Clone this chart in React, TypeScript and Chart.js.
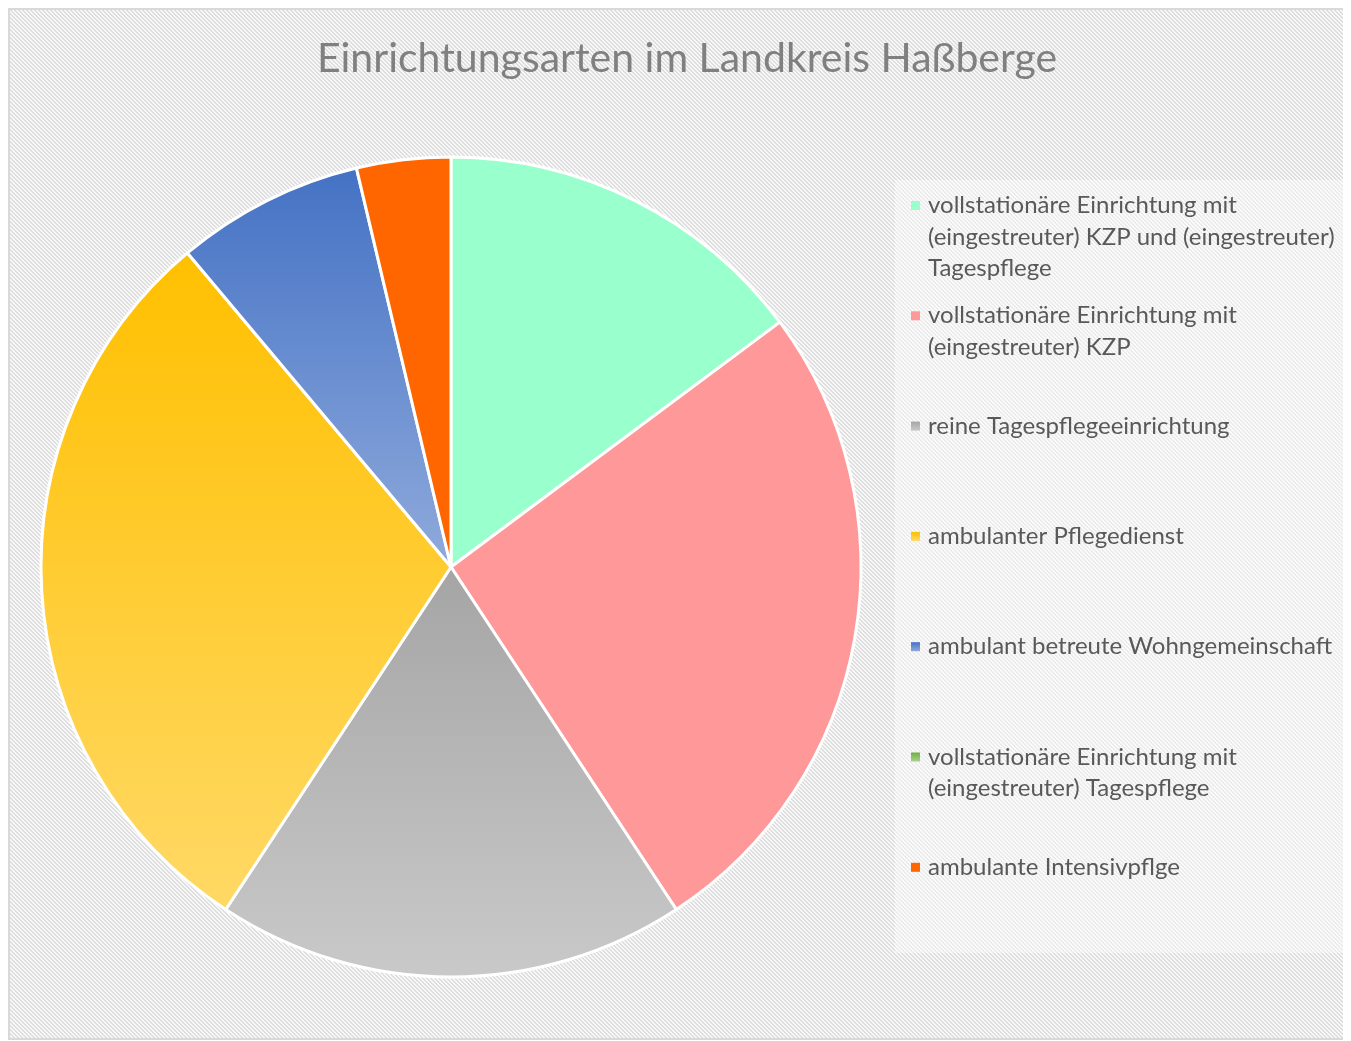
import React, { useEffect, useRef } from "react";
import { Chart, registerables } from "chart.js";

Chart.register(...registerables);

const TITLE = "Einrichtungsarten im Landkreis Haßberge";

const categories = [
  "vollstationäre Einrichtung mit (eingestreuter) KZP und (eingestreuter) Tagespflege",
  "vollstationäre Einrichtung mit (eingestreuter) KZP",
  "reine Tagespflegeeinrichtung",
  "ambulanter Pflegedienst",
  "ambulant betreute Wohngemeinschaft",
  "vollstationäre Einrichtung mit (eingestreuter) Tagespflege",
  "ambulante Intensivpflge",
];

const counts = [4, 7, 5, 8, 2, 0, 1];

const topColors = ["#99FFCC", "#FF9999", "#A5A5A5", "#FFC000", "#4472C4", "#70AD47", "#FF6600"];
const bottomColors = ["#99FFCC", "#FF9999", "#C9C9C9", "#FFD966", "#8FAADC", "#A9D18E", "#FF6600"];

const FONT = "Lato, 'Open Sans', sans-serif";
const PIE_RADIUS = 410;

function sliceGradient(ctx: any) {
  const i: number = ctx.dataIndex ?? 0;
  const chart = ctx.chart;
  const area = chart.chartArea;
  if (!area || topColors[i] === bottomColors[i]) return topColors[i];
  const cy = (area.top + area.bottom) / 2;
  const total = counts.reduce((a, b) => a + b, 0);
  const before = counts.slice(0, i).reduce((a, b) => a + b, 0);
  const start = -Math.PI / 2 + (before / total) * Math.PI * 2;
  const end = start + (counts[i] / total) * Math.PI * 2;
  const ys = [cy, cy + PIE_RADIUS * Math.sin(start), cy + PIE_RADIUS * Math.sin(end)];
  for (const a of [-Math.PI / 2, Math.PI / 2, (3 * Math.PI) / 2]) {
    if (a > start && a < end) ys.push(cy + PIE_RADIUS * Math.sin(a));
  }
  const minY = Math.min(...ys);
  const maxY = Math.max(...ys);
  if (maxY - minY < 1) return topColors[i];
  const g = chart.ctx.createLinearGradient(0, minY, 0, maxY);
  g.addColorStop(0, topColors[i]);
  g.addColorStop(1, bottomColors[i]);
  return g;
}

function makeHatch(ctx: CanvasRenderingContext2D, dark: string, light: string) {
  const c = document.createElement("canvas");
  c.width = 4;
  c.height = 4;
  const x = c.getContext("2d")!;
  for (let yy = 0; yy < 4; yy++) {
    for (let xx = 0; xx < 4; xx++) {
      const m = (((xx - yy) % 4) + 4) % 4;
      x.fillStyle = m === 0 || m === 1 ? dark : light;
      x.fillRect(xx, yy, 1, 1);
    }
  }
  return ctx.createPattern(c, "repeat")!;
}

function wrap(ctx: CanvasRenderingContext2D, text: string, maxW: number) {
  const words = text.split(" ");
  const lines: string[] = [];
  let cur = "";
  for (const w of words) {
    const t = cur ? cur + " " + w : w;
    if (ctx.measureText(t).width > maxW && cur) {
      lines.push(cur);
      cur = w;
    } else cur = t;
  }
  if (cur) lines.push(cur);
  return lines;
}

const decorPlugin = {
  id: "decor",
  beforeDraw(chart: any) {
    const { ctx, width, height } = chart;
    ctx.save();
    ctx.fillStyle = makeHatch(ctx, "#dedede", "#f8f8f8");
    ctx.fillRect(0, 0, width, height);
    // legend panel
    ctx.fillStyle = "rgba(255,255,255,0.4)";
    ctx.fillRect(885, 170, width - 885, 773);
    ctx.restore();
  },
  afterDraw(chart: any) {
    const { ctx } = chart;
    ctx.save();
    // title
    ctx.font = `41px ${FONT}`;
    ctx.fillStyle = "#808080";
    ctx.textAlign = "center";
    ctx.textBaseline = "alphabetic";
    ctx.fillText(TITLE, 677, 62);

    // legend
    ctx.font = `24px ${FONT}`;
    ctx.textAlign = "left";
    const boxX = 901;
    const textX = 918;
    const firstBase = 203;
    const step = 110.3;
    const lineH = 31.5;
    categories.forEach((label, i) => {
      const base = firstBase + i * step;
      const g = ctx.createLinearGradient(0, base - 12, 0, base - 3);
      g.addColorStop(0, topColors[i]);
      g.addColorStop(1, bottomColors[i]);
      ctx.fillStyle = g;
      ctx.fillRect(boxX, base - 12, 9, 9);
      ctx.fillStyle = "#595959";
      const lines = wrap(ctx, label, 418);
      lines.forEach((ln, j) => ctx.fillText(ln, textX, base + j * lineH));
    });
    ctx.restore();
  },
};

export default function App() {
  const ref = useRef<HTMLCanvasElement>(null);
  useEffect(() => {
    const chart = new Chart(ref.current!, {
      type: "pie",
      data: {
        labels: categories,
        datasets: [
          {
            data: counts,
            backgroundColor: sliceGradient as any,
            borderColor: "#ffffff",
            borderWidth: 3,
          },
        ],
      },
      options: {
        animation: false,
        responsive: true,
        maintainAspectRatio: false,
        events: [],
        radius: PIE_RADIUS,
        layout: { padding: { left: 10, right: 466, top: 86, bottom: 0 } },
        plugins: {
          legend: { display: false },
          title: { display: false },
          tooltip: { enabled: false },
        },
      } as any,
      plugins: [decorPlugin],
    });
    return () => chart.destroy();
  }, []);
  return (
    <div
      style={{
        width: 1342,
        height: 1032,
        border: "2px solid #d9d9d9",
        boxSizing: "border-box",
        background: "#fff",
      }}
    >
      <div style={{ position: "relative", width: 1338, height: 1028 }}>
        <canvas ref={ref} />
      </div>
    </div>
  );
}
